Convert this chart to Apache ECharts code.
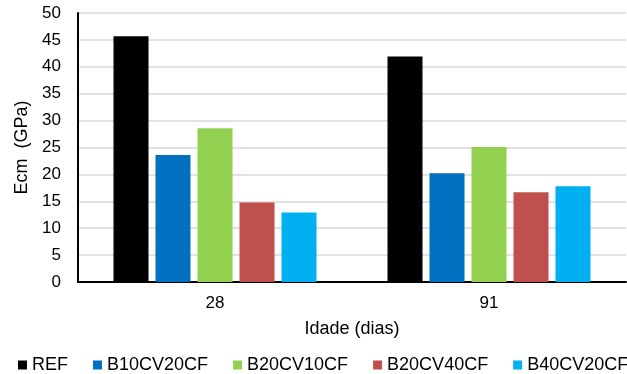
<!DOCTYPE html>
<html>
<head>
<meta charset="utf-8">
<script src="https://cdn.jsdelivr.net/npm/echarts@6/dist/echarts.min.js"></script>
<style>
  html, body { margin: 0; padding: 0; background: #fff; }
  #chart { width: 627px; height: 374px; }
</style>
</head>
<body>
<div id="chart"></div>
<script>
// Modulus of elasticity by age, per mix
const categories = ['28', '91'];
const seriesNames = ['REF', 'B10CV20CF', 'B20CV10CF', 'B20CV40CF', 'B40CV20CF'];
const ref = [45.7, 41.9];
const b10cv20cf = [23.6, 20.2];
const b20cv10cf = [28.6, 25.1];
const b20cv40cf = [14.8, 16.7];
const b40cv20cf = [12.9, 17.8];
const colors = ['#000000', '#0070c0', '#92d050', '#c0504d', '#00b0f0'];

const values = [ref, b10cv20cf, b20cv10cf, b20cv40cf, b40cv20cf];
const font = 'Liberation Sans, Arial, sans-serif';

const chart = echarts.init(document.getElementById('chart'));
chart.setOption({
  animation: false,
  textStyle: { fontFamily: font },
  grid: { left: 78, right: 1, top: 13, bottom: 92, containLabel: false },
  legend: {
    data: seriesNames,
    left: 13,
    top: 351,
    width: 630,
    itemWidth: 9,
    itemHeight: 9,
    itemGap: 25,
    icon: 'rect',
    textStyle: { fontSize: 18, color: '#000', fontFamily: font }
  },
  xAxis: {
    type: 'category',
    data: categories,
    name: 'Idade (dias)',
    nameLocation: 'middle',
    nameGap: 38,
    nameTextStyle: { fontSize: 18, color: '#000', fontFamily: font },
    axisLine: { lineStyle: { color: '#000', width: 2 } },
    axisTick: { show: false },
    axisLabel: { fontSize: 17, color: '#000', margin: 13, fontFamily: font }
  },
  yAxis: {
    type: 'value',
    min: 0,
    max: 50,
    interval: 5,
    name: 'Ecm  (GPa)',
    nameLocation: 'middle',
    nameGap: 46,
    nameTextStyle: { fontSize: 18, color: '#000', fontFamily: font },
    axisLine: { show: true, lineStyle: { color: '#000', width: 2 } },
    axisTick: { show: false },
    axisLabel: { fontSize: 17, color: '#000', margin: 17, fontFamily: font },
    splitLine: { lineStyle: { color: '#d9d9d9', width: 1.5 } }
  },
  series: seriesNames.map((name, i) => ({
    name: name,
    type: 'bar',
    data: values[i],
    barWidth: 35,
    barGap: '20%',
    itemStyle: { color: colors[i] }
  }))
});
</script>
</body>
</html>
